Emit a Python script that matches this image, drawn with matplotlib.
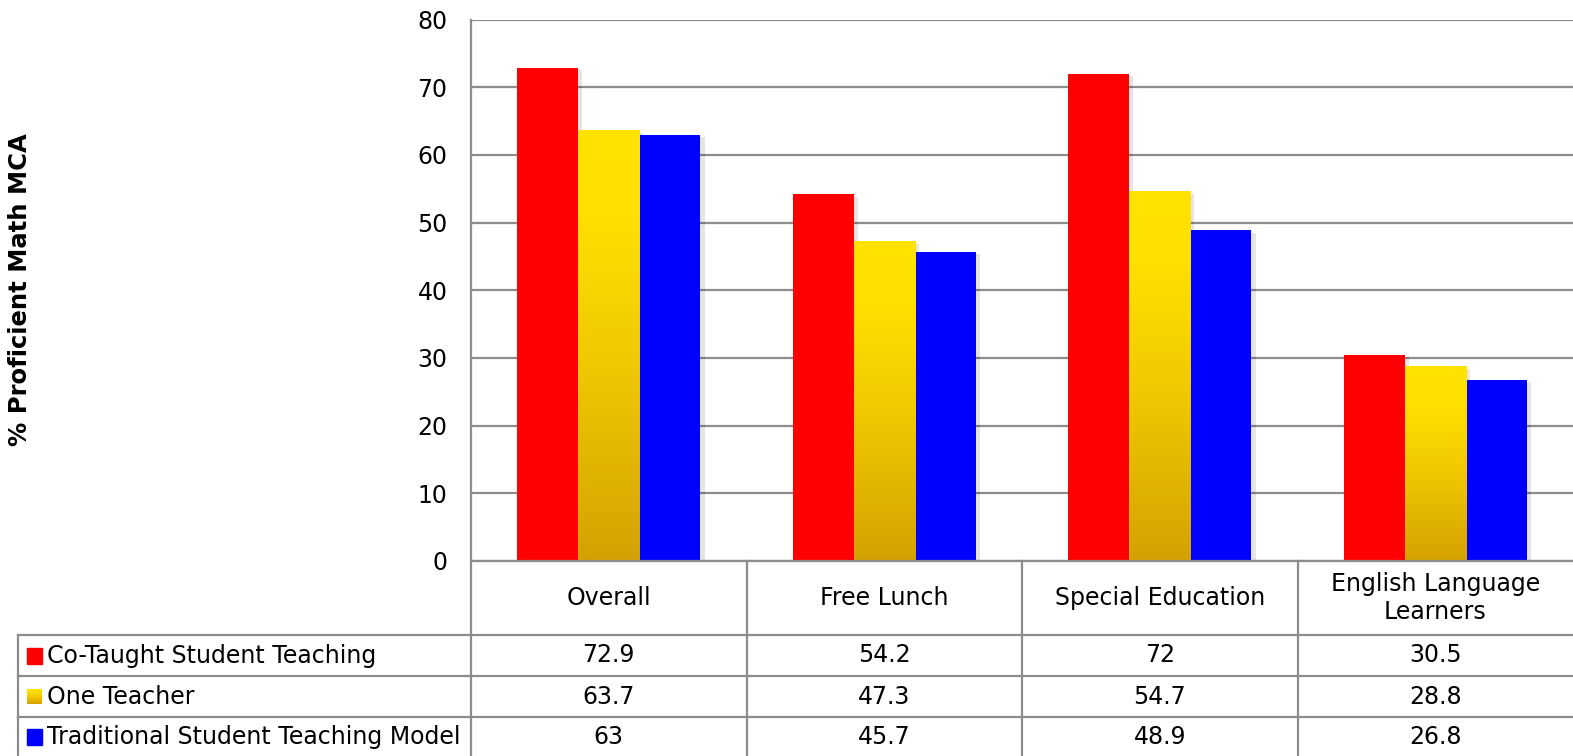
import numpy as np
import matplotlib
matplotlib.use('Agg')
from matplotlib import pyplot as plt
from matplotlib import transforms
from matplotlib.patches import Rectangle
from matplotlib.lines import Line2D
from matplotlib.colors import LinearSegmentedColormap
import matplotlib.patheffects as pe

categories = ['Overall', 'Free Lunch', 'Special Education', 'English Language\nLearners']
series_names = ['Co-Taught Student Teaching', 'One Teacher', 'Traditional Student Teaching Model']
co_taught = [72.9, 54.2, 72, 30.5]
one_teacher = [63.7, 47.3, 54.7, 28.8]
traditional = [63, 45.7, 48.9, 26.8]
yticks = [0, 10, 20, 30, 40, 50, 60, 70, 80]

plt.rcParams['font.family'] = ['DejaVu Sans']

W, H = 1573, 756
fig = plt.figure(figsize=(W / 100, H / 100), dpi=100)

def fx(x):
    return x / W

def fy(y):
    return 1 - y / H

grid_col = '#8c8c8c'
ax = fig.add_axes([fx(471), fy(561), fx(W - 471), (561 - 19.5) / H])

gold = LinearSegmentedColormap.from_list('gold', [(0, '#d4a200'), (0.45, '#f0c800'), (0.8, '#ffe000'), (1, '#ffe300')])
shadow = [pe.SimplePatchShadow(offset=(3, -2), shadow_rgbFace='#000000', alpha=0.1), pe.Normal()]

x = np.arange(len(categories))
bw = 0.222
red_bars = ax.bar(x - bw, co_taught, bw, color='#ff0000', zorder=3)
yel_bars = ax.bar(x, one_teacher, bw, color='#f0c800', zorder=3)
blue_bars = ax.bar(x + bw, traditional, bw, color='#0000ff', zorder=3)
for b in list(red_bars) + list(yel_bars) + list(blue_bars):
    b.set_path_effects(shadow)

# gold gradient on the "One Teacher" bars
grad = np.linspace(0, 1, 256).reshape(-1, 1)
for b in yel_bars:
    x0 = b.get_x()
    im = ax.imshow(grad, extent=[x0, x0 + b.get_width(), 0, b.get_height()],
                   origin='lower', cmap=gold, aspect='auto', zorder=3.5)
    im.set_clip_path(b)

ax.set_xlim(-0.5, len(categories) - 0.5)
ax.set_ylim(0, 80)
ax.set_yticks(yticks)
ax.set_xticks([])
ax.yaxis.grid(True, color=grid_col, lw=1.6)
ax.set_axisbelow(True)
for s in ['top', 'right', 'bottom', 'left']:
    ax.spines[s].set_visible(False)
ax.tick_params(axis='y', length=0, pad=17, labelsize=17)

fig.text(fx(20), fy(290), '% Proficient Math MCA', rotation=90, ha='center', va='center',
         fontsize=17.5, fontweight='bold')

# data table below the plot
cat_tr = transforms.blended_transform_factory(ax.transData, fig.transFigure)
lw = 1.6

def hline(x0, y):
    fig.add_artist(Line2D([fx(x0), 1], [fy(y), fy(y)], transform=fig.transFigure, color=grid_col, lw=lw))

hline(471, 561)
for y in [635, 676, 717]:
    hline(18, y)
fig.add_artist(Line2D([fx(18), fx(18)], [fy(635), 0], transform=fig.transFigure, color=grid_col, lw=lw))
fig.add_artist(Line2D([fx(471), fx(471)], [fy(19.5), 0], transform=fig.transFigure, color=grid_col, lw=lw))
for i in range(1, len(categories)):
    fig.add_artist(Line2D([i - 0.5, i - 0.5], [fy(561), 0], transform=cat_tr, color=grid_col, lw=lw))

for i, c in enumerate(categories):
    fig.text(i, fy(598), c, transform=cat_tr, ha='center', va='center', fontsize=17, linespacing=1.2)

row_y = [655.5, 696.5, 737]
series = [co_taught, one_teacher, traditional]
key_cols = ['#ff0000', None, '#0000ff']
for r, (name, vals) in enumerate(zip(series_names, series)):
    yc = row_y[r]
    if key_cols[r] is not None:
        fig.add_artist(Rectangle((fx(27), fy(yc + 8)), fx(15), 16 / H, transform=fig.transFigure,
                                 color=key_cols[r]))
    else:
        kax = fig.add_axes([fx(27), fy(yc + 8), fx(15), 16 / H])
        kax.imshow(grad, origin='lower', cmap=gold, aspect='auto')
        kax.axis('off')
    fig.text(fx(47), fy(yc), name, ha='left', va='center', fontsize=17)
    for i, v in enumerate(vals):
        fig.text(i, fy(yc), f'{v:g}', transform=cat_tr, ha='center', va='center', fontsize=17)

fig.savefig('out.png', dpi=100)
